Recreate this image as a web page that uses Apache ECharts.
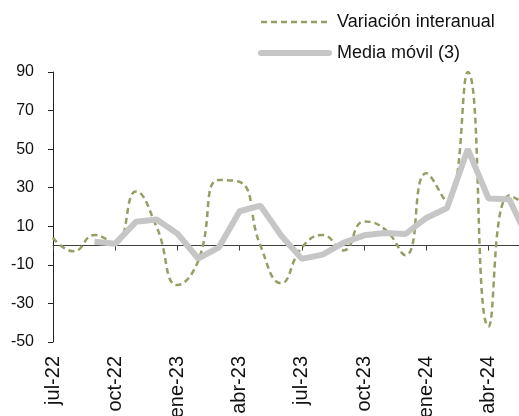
<html>

<head>
    <title>chart</title>
    <script src="https://cdn.jsdelivr.net/npm/echarts@6/dist/echarts.min.js"></script>
</head>

<body style="margin:0;overflow:hidden">
    <!-- el gráfico original sigue más allá del borde derecho: el div es algo más ancho que la ventana -->
    <div id="lineChart" style="width:530px;height:416px;"></div>
    <script language="JavaScript">
        // meses de jul-22 a jun-24
        var months = ["jul-22", "ago-22", "sep-22", "oct-22", "nov-22", "dic-22",
            "ene-23", "feb-23", "mar-23", "abr-23", "may-23", "jun-23",
            "jul-23", "ago-23", "sep-23", "oct-23", "nov-23", "dic-23",
            "ene-24", "feb-24", "mar-24", "abr-24", "may-24", "jun-24"];
        var interanual = [4, -3, 5.5, 1, 28, 9.5, -20.5, -8, 34, 33, 0, -19.5,
            -1, 5.5, -2.5, 12.5, 8.5, -5, 37.5, 23, 90, -42, 26, 20];
        var mediaMovil = [null, null, 2, 1, 12.3, 13.5, 6.2, -6.7, -0.9, 17.8, 20.7, 5.2,
            -6.9, -4.7, 1.4, 5.3, 6.5, 6, 14.3, 19.5, 50, 24.4, 24, 1.3];
        var yTicks = { min: -50, max: 90, step: 20 };

        var font = "'Liberation Sans', Arial, sans-serif";
        var chart = echarts.init(document.getElementById('lineChart'));
        var option = {
            animation: false,
            legend: {
                orient: 'vertical',
                left: 253,
                top: 7,
                itemWidth: 68,
                itemHeight: 14,
                itemGap: 11,
                itemStyle: { opacity: 0 },
                data: [
                    { name: 'Variación interanual', lineStyle: { width: 2.5, type: [6, 4] } },
                    { name: 'Media móvil (3)', lineStyle: { width: 6, cap: 'round' } }
                ],
                textStyle: { fontSize: 18, color: '#111', fontFamily: font, lineHeight: 20, padding: [0, 0, 0, 3] }
            },
            // las etiquetas del eje x se salen por abajo, como en el original
            grid: { left: 53, right: 0, top: 72, bottom: 74, containLabel: false, outerBoundsMode: 'none' },
            xAxis: [{
                type: 'category',
                data: months,
                boundaryGap: false,
                axisLine: { onZero: true, lineStyle: { color: '#404040', width: 1 } },
                axisTick: { interval: 2, length: 5, lineStyle: { color: '#404040' } },
                axisLabel: { show: false }
            }, {
                type: 'category',
                data: months,
                position: 'bottom',
                boundaryGap: false,
                axisLine: { show: false, onZero: false },
                axisTick: { show: false },
                axisLabel: {
                    interval: 2, rotate: 90, margin: 14,
                    fontSize: 20, color: '#111', fontFamily: font
                }
            }],
            yAxis: {
                type: 'value',
                min: yTicks.min,
                max: yTicks.max,
                interval: yTicks.step,
                splitLine: { show: false },
                axisLine: { show: true, lineStyle: { color: '#222' } },
                axisTick: { show: true, length: 5, lineStyle: { color: '#222' } },
                axisLabel: { fontSize: 16, color: '#111', fontFamily: font, margin: 19 }
            },
            series: [{
                name: 'Variación interanual',
                type: 'line',
                data: interanual,
                smooth: 0.5,
                symbol: 'none',
                clip: false,
                lineStyle: { color: '#949f65', width: 2.5, type: [6, 4] },
                itemStyle: { color: '#949f65' }
            }, {
                name: 'Media móvil (3)',
                type: 'line',
                data: mediaMovil,
                symbol: 'none',
                clip: false,
                lineStyle: { color: '#c6c6c6', width: 6 },
                itemStyle: { color: '#c6c6c6' }
            }]
        };
        chart.setOption(option);
    </script>
</body>

</html>
